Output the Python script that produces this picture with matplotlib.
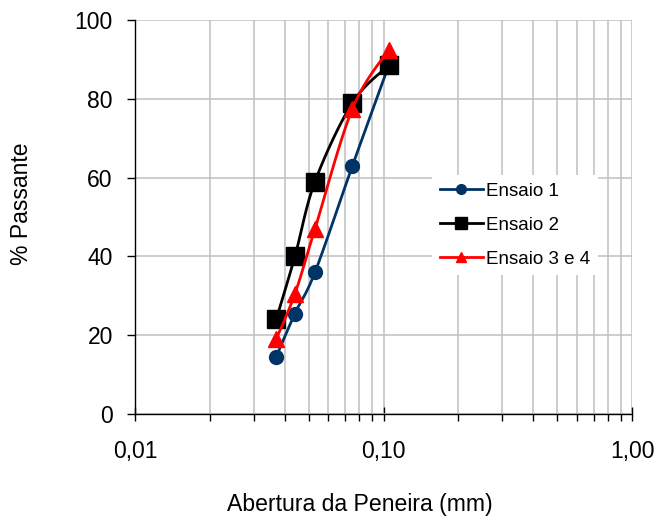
import numpy as np
import matplotlib
matplotlib.use("Agg")
import matplotlib.pyplot as plt
from matplotlib.ticker import FixedLocator, FuncFormatter, NullFormatter

plt.rcParams['font.family'] = ['Liberation Sans', 'DejaVu Sans']

# sieve opening (mm) and % passing
abertura = [0.037, 0.044, 0.053, 0.075, 0.105]
ensaio_1 = [14.5, 25.5, 36.0, 63.0, 88.5]
ensaio_2 = [24.0, 40.0, 59.0, 79.0, 88.5]
ensaio_34 = [19.0, 30.5, 47.0, 77.5, 92.5]


def smooth(ax, xs, ys, n=30):
    # Excel-like smoothed line: bezier with catmull-rom control points, in screen space
    pts = ax.transData.transform(np.column_stack([xs, ys]))
    out = []
    for i in range(len(pts) - 1):
        p0 = pts[i - 1] if i > 0 else pts[i]
        p1 = pts[i]
        p2 = pts[i + 1]
        p3 = pts[i + 2] if i + 2 < len(pts) else pts[i + 1]
        c1 = p1 + (p2 - p0) / 6.0
        c2 = p2 - (p3 - p1) / 6.0
        t = np.linspace(0, 1, n)[:, None]
        seg = ((1 - t) ** 3) * p1 + 3 * ((1 - t) ** 2) * t * c1 + 3 * (1 - t) * t ** 2 * c2 + t ** 3 * p2
        out.append(seg if i == 0 else seg[1:])
    out = np.vstack(out)
    d = ax.transData.inverted().transform(out)
    return d[:, 0], d[:, 1]


fig = plt.figure(figsize=(6.57, 5.17), dpi=100)
ax = fig.add_axes([135 / 657, 103 / 517, 497 / 657, 394 / 517])

ax.set_xscale('log')
ax.set_xlim(0.01, 1.0)
ax.set_ylim(0, 100)

ax.xaxis.set_major_locator(FixedLocator([0.01, 0.1, 1.0]))
ax.xaxis.set_major_formatter(FuncFormatter(lambda v, p: f"{v:.2f}".replace('.', ',')))
minors = [m * d for d in (0.01, 0.1) for m in range(2, 10)]
ax.xaxis.set_minor_locator(FixedLocator(minors))
ax.xaxis.set_minor_formatter(NullFormatter())
ax.set_yticks([0, 20, 40, 60, 80, 100])

ax.grid(True, which='both', color='#c0c0c0', linewidth=1.1)
ax.set_axisbelow(True)

for s in ('top', 'right'):
    ax.spines[s].set_visible(False)
for s in ('left', 'bottom'):
    ax.spines[s].set_color('black')
    ax.spines[s].set_linewidth(1.0)

ax.tick_params(axis='x', which='major', direction='inout', length=10, width=1, labelsize=16.5, pad=14)
ax.tick_params(axis='x', which='minor', direction='out', length=5, width=1)
ax.tick_params(axis='y', which='major', direction='out', length=6, width=1, labelsize=16.5, pad=10)

series = [
    (ensaio_1, 'Ensaio 1', '#003366', 'o', 10),
    (ensaio_2, 'Ensaio 2', 'black', 's', 13),
    (ensaio_34, 'Ensaio 3 e 4', '#ff0000', '^', 11),
]
for k, (ys, lab, col, mk, ms) in enumerate(series):
    sx, sy = smooth(ax, abertura, ys)
    ax.plot(sx, sy, color=col, linewidth=2.0, zorder=3 + k)
    ax.plot(abertura, ys, linestyle='none', marker=mk, markersize=ms, color=col, zorder=3 + k)
    ax.plot([], [], color=col, linewidth=2.0, marker=mk, markersize=ms, label=lab)

fig.text(360 / 657, 1 - 504 / 517, 'Abertura da Peneira (mm)', fontsize=16.6, ha='center', va='center')
fig.text(22 / 657, 1 - 204 / 517, '% Passante', fontsize=16.5, ha='center', va='center', rotation=90)

leg = ax.legend(loc='upper left', bbox_to_anchor=((432 - 135) / 497, (414 - 175) / 394),
                fontsize=13.5, frameon=True, fancybox=False, edgecolor='none', facecolor='white',
                framealpha=1, markerscale=0.7, handlelength=2.3, handletextpad=0.2,
                labelspacing=0.9, borderpad=0.4, borderaxespad=0)

fig.savefig('out.png', dpi=100)
